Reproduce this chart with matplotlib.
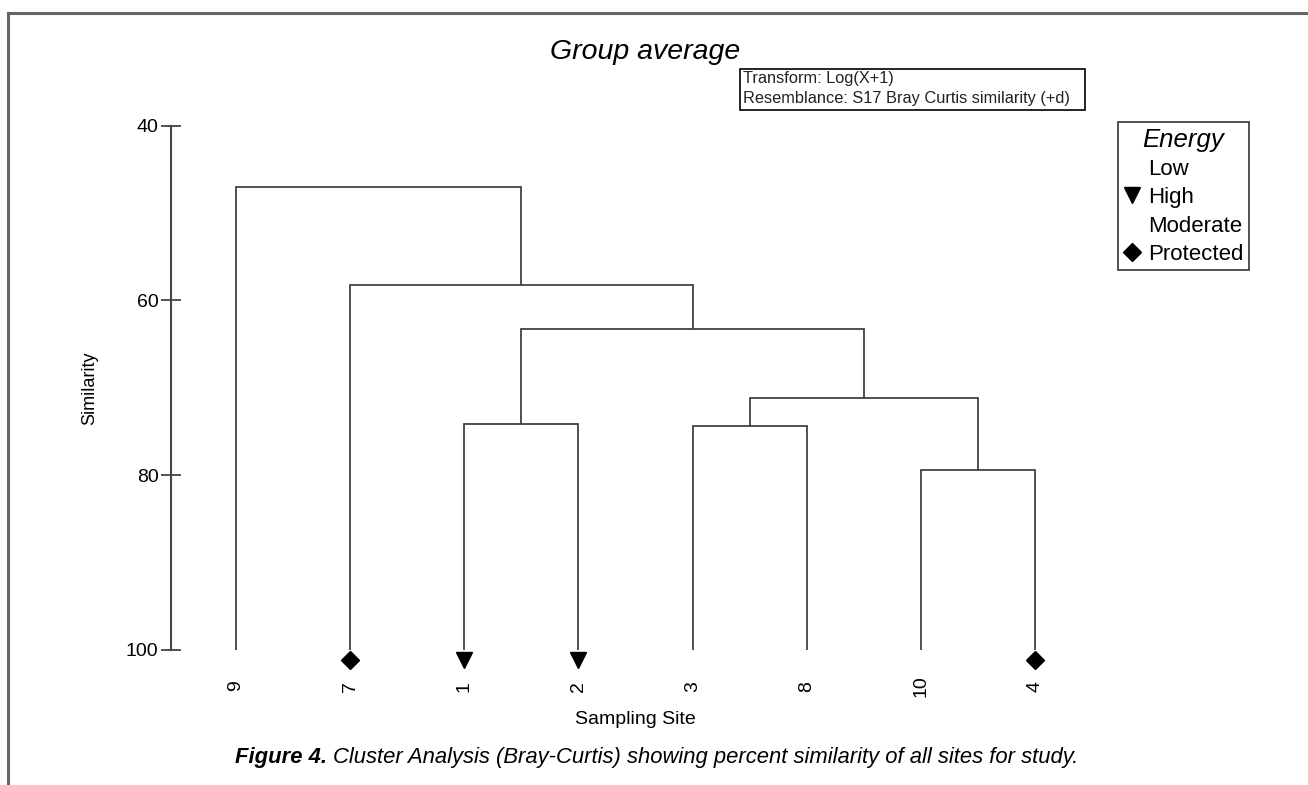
import matplotlib
matplotlib.use("Agg")
import matplotlib.pyplot as plt
from matplotlib.lines import Line2D
from matplotlib.patches import Rectangle

# Leaf order along the x axis (sampling sites)
sites = ["9", "7", "1", "2", "3", "8", "10", "4"]

# Group-average merges: child A, child B, similarity (%) at which they join.
# Children are site labels or "m<k>" for the k-th merge.
merge_a = ["1", "3", "10", "m1", "m0", "7", "9"]
merge_b = ["2", "8", "4", "m2", "m3", "m4", "m5"]
merge_sim = [74.1, 74.4, 79.4, 71.2, 63.3, 58.2, 47.0]

# Energy class of the marked sites
site_energy = {"7": "Protected", "1": "High", "2": "High", "4": "Protected"}
energy_levels = ["Low", "High", "Moderate", "Protected"]
energy_markers = {"Low": None, "High": "v", "Moderate": None, "Protected": "D"}

y_ticks = [40, 60, 80, 100]

FONT = "Liberation Sans"
LINE = "#3a3a3a"

W, H, DPI = 1308, 785, 100
fig = plt.figure(figsize=(W / DPI, H / DPI), dpi=DPI)
plt.rcParams["font.family"] = [FONT, "DejaVu Sans"]

# axes placed in pixel units
ax_l, ax_r, ax_t, ax_b = 171, 1100, 125.5, 650
ax = fig.add_axes([ax_l / W, 1 - ax_b / H, (ax_r - ax_l) / W, (ax_b - ax_t) / H])
step = 114.14
ax.set_xlim(-(236 - ax_l) / step, 7 + (ax_r - 1035) / step)
ax.set_ylim(100, 40)

# dendrogram
pos = {s: (i, 100.0) for i, s in enumerate(sites)}
for k, (a, b, s) in enumerate(zip(merge_a, merge_b, merge_sim)):
    xa, ya = pos[a]
    xb, yb = pos[b]
    ax.plot([xa, xa, xb, xb], [ya, s, s, yb], color=LINE, lw=1.25,
            solid_joinstyle="miter", solid_capstyle="butt")
    pos["m%d" % k] = ((xa + xb) / 2, s)

# energy markers below the leaves
for i, s in enumerate(sites):
    e = site_energy.get(s)
    if e and energy_markers[e]:
        ax.plot(i, 101.2, marker=energy_markers[e], color="black",
                ms=11 if energy_markers[e] == "v" else 9, clip_on=False)

# axis styling
for side in ["top", "right", "bottom"]:
    ax.spines[side].set_visible(False)
ax.spines["left"].set_color("#444444")
ax.spines["left"].set_linewidth(1.5)
ax.spines["left"].set_bounds(40, 100)
ax.set_yticks(y_ticks)
ax.set_yticklabels([str(t) for t in y_ticks], fontsize=14)
ax.tick_params(axis="y", direction="inout", length=14, width=1.3,
               color="#444444", pad=2)
ax.set_xticks(range(len(sites)))
ax.set_xticklabels(sites, rotation=90, fontsize=14, va="center")
ax.tick_params(axis="x", length=0, pad=26)
ax.set_ylabel("Similarity", fontsize=13, labelpad=20)
ax.set_xlabel("Sampling Site", fontsize=14, labelpad=10)

# title
fig.text(645 / W, 1 - 52 / H, "Group average", fontsize=20.5, style="italic",
         ha="center", va="center")

# transform / resemblance box
fig.patches.append(Rectangle((740 / W, 1 - 110 / H), (1085 - 740) / W, 41 / H,
                             transform=fig.transFigure, fill=False,
                             edgecolor="black", lw=1.2))
fig.text(743 / W, 1 - 79 / H, "Transform: Log(X+1)", fontsize=11.8,
         va="center", ha="left", color="#222222")
fig.text(743 / W, 1 - 99 / H, "Resemblance: S17 Bray Curtis similarity (+d)",
         fontsize=11.8, va="center", ha="left", color="#222222")

# energy legend
handles = []
for lev in energy_levels:
    m = energy_markers[lev]
    handles.append(Line2D([], [], linestyle="none", marker=m if m else "None",
                          color="black", markersize=11 if m == "v" else 9))
leg = fig.legend(handles, energy_levels, loc="upper left",
                 bbox_to_anchor=(1118 / W, 1 - 122 / H), fontsize=16,
                 title="Energy", title_fontproperties={"size": 18.5, "style": "italic"},
                 frameon=True, fancybox=False, edgecolor="black",
                 handlelength=0.75, handletextpad=0.35, borderpad=0.25,
                 labelspacing=0.33, borderaxespad=0)
leg.get_frame().set_linewidth(1.2)

# outer frame (top and left rules)
fig.add_artist(Line2D([7.5 / W, 1], [1 - 12.7 / H] * 2, color="#666666", lw=2.2,
                      transform=fig.transFigure))
fig.add_artist(Line2D([7.5 / W] * 2, [0, 1 - 12.7 / H], color="#666666", lw=2.2,
                      transform=fig.transFigure))

# caption: bold-italic lead followed by italic text
renderer = fig.canvas.get_renderer()
cap_y = 1 - 758 / H
t1 = fig.text(235 / W, cap_y, "Figure 4.", fontsize=15.8, style="italic",
              weight="bold", va="center", ha="left")
bb = t1.get_window_extent(renderer)
fig.text((bb.x1 + 6) / W, cap_y,
         "Cluster Analysis (Bray-Curtis) showing percent similarity of all sites for study.",
         fontsize=15.8, style="italic", va="center", ha="left")

fig.savefig("out.png", dpi=DPI)
